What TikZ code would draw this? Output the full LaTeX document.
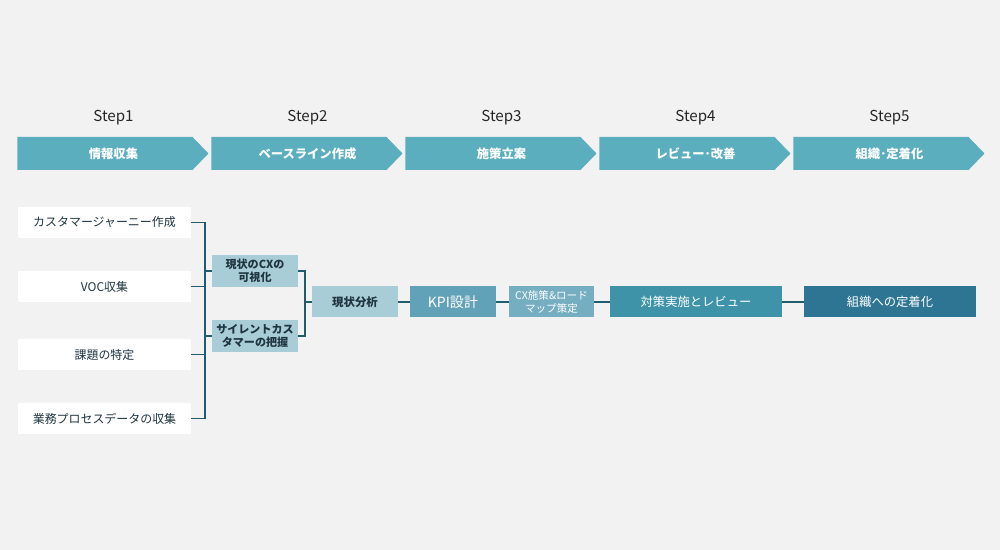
\documentclass[tikz,border=0pt]{standalone}
\usepackage{fontspec}
\setmainfont{Noto Sans CJK JP}
\usepackage{tikz}
\usetikzlibrary{shapes.symbols}
\definecolor{bgcol}{HTML}{F2F2F2}
\definecolor{chevcol}{HTML}{5BAEBE}
\definecolor{palecol}{HTML}{A9CDD6}
\definecolor{midcol}{HTML}{62A2B8}
\definecolor{deepcol}{HTML}{3E93A9}
\definecolor{darkcol}{HTML}{2D7592}
\definecolor{linecol}{HTML}{1E5C6E}
\definecolor{inkcol}{HTML}{1F3540}
\newcommand{\tipgap}{\hspace*{0.34cm}}
\tikzset{
  steplabel/.style={text=black!85, font=\fontsize{8.6}{10}\selectfont},
  chevron/.style={signal, signal to=east, signal pointer angle=92, fill=chevcol,
    text=white, inner sep=0pt, minimum width=191*0.02cm, minimum height=33*0.02cm,
    font=\bfseries\fontsize{7}{8}\selectfont},
  srcbox/.style={fill=white, text=inkcol, minimum width=173*0.02cm, minimum height=31*0.02cm,
    inner sep=0pt, font=\fontsize{6.8}{8}\selectfont},
  palebox/.style={fill=palecol, text=inkcol, minimum width=86*0.02cm, minimum height=32*0.02cm,
    inner sep=0pt, align=center, font=\bfseries\fontsize{6.3}{7.2}\selectfont},
  flowbox/.style={text=white, minimum height=31*0.02cm, inner sep=0pt, align=center,
    font=\fontsize{7}{8}\selectfont},
  link/.style={linecol, line width=1.1pt}
}
\begin{document}
\begin{tikzpicture}[x=0.02cm, y=-0.02cm]
    \fill[bgcol] (0,0) rectangle (1000,550);
    \useasboundingbox (0,0) rectangle (1000,550);

    \node[steplabel] at (113.5,118) (s1){Step1};
    \node[steplabel] at ([xshift = 194*0.02cm]s1) (s2){Step2};
    \node[steplabel] at ([xshift = 194*0.02cm]s2) (s3){Step3};
    \node[steplabel] at ([xshift = 194*0.02cm]s3) (s4){Step4};
    \node[steplabel] at ([xshift = 194*0.02cm]s4) (s5){Step5};

    \node[chevron] at (105,153.5) (c1){\tipgap 情報収集};
    \node[chevron] at ([xshift = 194*0.02cm]c1) (c2){\tipgap ベースライン作成};
    \node[chevron] at ([xshift = 194*0.02cm]c2) (c3){\tipgap 施策立案};
    \node[chevron] at ([xshift = 194*0.02cm]c3) (c4){\tipgap レビュー･改善};
    \node[chevron] at ([xshift = 194*0.02cm]c4) (c5){\tipgap 組織･定着化};

    \node[srcbox] at (104.5,222.5) (journey){カスタマージャーニー作成};
    \node[srcbox] at (104.5,286.5) (voc){VOC収集};
    \node[srcbox] at (104.5,354.5) (issue){課題の特定};
    \node[srcbox] at (104.5,418.5) (bizdata){業務プロセスデータの収集};

    \node[palebox] at (255,271) (cxview){現状のCXの\\可視化};
    \node[palebox] at (255,336) (silent){サイレントカス\\タマーの把握};

    \node[palebox, minimum height=31*0.02cm, font=\bfseries\fontsize{6.5}{7.5}\selectfont] at (355,302) (analysis){現状分析};
    \node[flowbox, fill=midcol, minimum width=86*0.02cm, font=\fontsize{8}{9}\selectfont] at (453,302) (kpi){KPI設計};
    \node[flowbox, fill=midcol!88!white, minimum width=85*0.02cm, font=\fontsize{6}{7}\selectfont] at (551.5,302) (roadmap){CX施策\&ロード\\マップ策定};
    \node[flowbox, fill=deepcol, minimum width=172*0.02cm] at (696,302) (review){対策実施とレビュー};
    \node[flowbox, fill=darkcol, minimum width=172*0.02cm] at (890,302) (settle){組織への定着化};

    \coordinate (busA) at (205,222.5);
    \coordinate (busB) at (305,271);

    \draw[link] (journey.east) -- (journey.east -| busA) -- (bizdata.east -| busA) -- (bizdata.east);
    \draw[link] (voc.east) -- (voc.east -| busA);
    \draw[link] (issue.east) -- (issue.east -| busA);
    \draw[link] (cxview.west) -- (cxview.west -| busA);
    \draw[link] (silent.west) -- (silent.west -| busA);

    \draw[link] (cxview.east) -- (cxview.east -| busB) -- (silent.east -| busB) -- (silent.east);
    \draw[link] (analysis.west) -- (analysis.west -| busB);

    \draw[link] (analysis.east) -- (kpi.west);
    \draw[link] (kpi.east) -- (roadmap.west);
    \draw[link] (roadmap.east) -- (review.west);
    \draw[link] (review.east) -- (settle.west);
  \end{tikzpicture}
\end{document}
